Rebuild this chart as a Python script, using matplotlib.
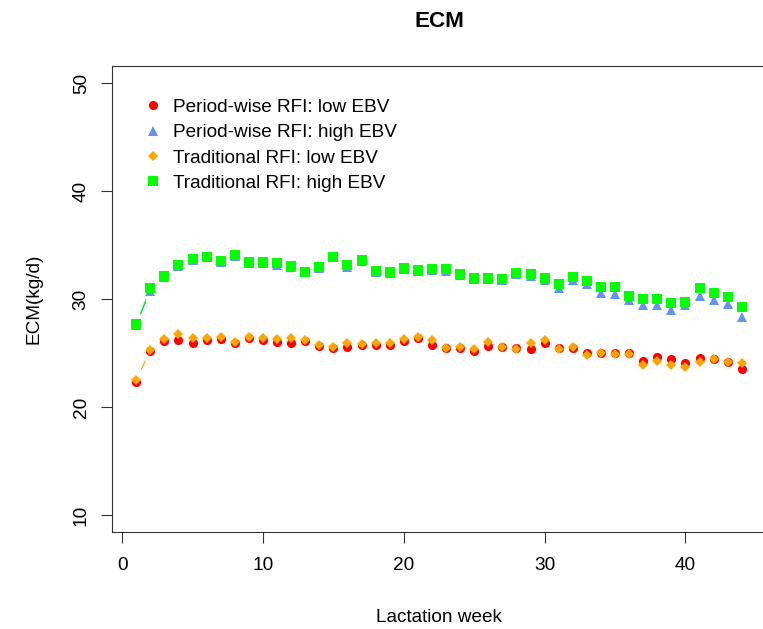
import numpy as np
import matplotlib
matplotlib.use('Agg')
import matplotlib.pyplot as plt

plt.rcParams['font.family'] = ['Liberation Sans', 'DejaVu Sans']

weeks = np.arange(1, 45)

pw_low = [22.28, 25.19, 26.11, 26.20, 25.96, 26.17, 26.30, 25.90, 26.36, 26.24,
          26.05, 25.90, 26.14, 25.65, 25.50, 25.53, 25.74, 25.74, 25.74, 26.14,
          26.36, 25.74, 25.43, 25.43, 25.22, 25.68, 25.56, 25.43, 25.37, 25.90,
          25.43, 25.50, 25.03, 24.97, 24.97, 24.97, 24.26, 24.66, 24.42, 24.04,
          24.51, 24.42, 24.20, 23.52]
pw_high = [27.60, 30.75, 32.05, 33.05, 33.65, 33.90, 33.40, 34.00, 33.35, 33.30,
           33.15, 33.00, 32.50, 32.90, 33.90, 33.00, 33.50, 32.50, 32.45, 32.80,
           32.60, 32.70, 32.60, 32.25, 31.85, 31.85, 31.75, 32.30, 32.15, 31.75,
           31.05, 31.80, 31.40, 30.60, 30.50, 29.90, 29.40, 29.40, 29.00, 29.40,
           30.30, 29.90, 29.50, 28.30]
tr_low = [22.50, 25.25, 26.27, 26.79, 26.36, 26.42, 26.45, 26.05, 26.48, 26.36,
          26.30, 26.36, 26.20, 25.74, 25.59, 25.90, 25.84, 25.96, 25.90, 26.30,
          26.45, 26.20, 25.50, 25.53, 25.34, 25.99, 25.59, 25.37, 25.90, 26.20,
          25.37, 25.59, 24.81, 24.97, 24.88, 24.94, 23.89, 24.26, 23.89, 23.73,
          24.14, 24.42, 24.20, 24.04]
tr_high = [27.66, 30.99, 32.16, 33.12, 33.70, 33.92, 33.49, 34.04, 33.43, 33.40,
           33.30, 33.09, 32.53, 32.93, 33.92, 33.12, 33.58, 32.59, 32.53, 32.87,
           32.69, 32.75, 32.75, 32.35, 31.98, 31.91, 31.88, 32.38, 32.28, 31.91,
           31.36, 32.01, 31.67, 31.14, 31.14, 30.28, 29.97, 29.97, 29.60, 29.72,
           30.99, 30.53, 30.21, 29.29]

labels = ['Period-wise RFI: low EBV', 'Period-wise RFI: high EBV',
          'Traditional RFI: low EBV', 'Traditional RFI: high EBV']
colors = ['#FF0000', '#6495ED', '#FFA500', '#00FF00']

FIG_W, FIG_H, DPI = 763, 629, 100
# plot box in pixels (right edge falls just outside the image, as in the original)
BOX_L, BOX_R, BOX_T, BOX_B = 112, 766, 65.7, 532.3
FS = 13.7


def r_range(lo, hi):
    pad = 0.04 * (hi - lo)
    return lo - pad, hi + pad


def gapped_lines(ax, x, y, color, gap=12):
    # mimic R type="b": segments leave a gap around each point
    pts = ax.transData.transform(np.column_stack([x, y]))
    inv = ax.transData.inverted()
    for p0, p1 in zip(pts[:-1], pts[1:]):
        d = p1 - p0
        dist = np.hypot(*d)
        if dist <= 2 * gap:
            continue
        u = d / dist
        a, b = inv.transform([p0 + u * gap, p1 - u * gap])
        ax.plot([a[0], b[0]], [a[1], b[1]], color=color, lw=0.8, zorder=1)


fig = plt.figure(figsize=(FIG_W / DPI, FIG_H / DPI), dpi=DPI)
ax = fig.add_axes([BOX_L / FIG_W, 1 - BOX_B / FIG_H,
                   (BOX_R - BOX_L) / FIG_W, (BOX_B - BOX_T) / FIG_H])
ax.set_xlim(*r_range(weeks.min(), weeks.max()))
ax.set_ylim(*r_range(10, 50))

series = [pw_low, pw_high, tr_low, tr_high]
markers = [('o', 6.6), ('^', 7.2), ('D', 5.0), ('s', 6.8)]
# only these show a connecting segment in the original
for vals, col in [(pw_high, colors[1]), (tr_low, colors[2]), (tr_high, colors[3])]:
    gapped_lines(ax, weeks, vals, col)
for vals, col, lab, (m, ms) in zip(series, colors, labels, markers):
    ax.plot(weeks, vals, linestyle='none', marker=m, ms=ms, color=col,
            mec=col, mew=0, label=lab, zorder=3)

ax.set_xticks([0, 10, 20, 30, 40])
ax.set_yticks([10, 20, 30, 40, 50])
ax.tick_params(direction='out', length=8, width=0.8, labelsize=FS, colors='#333333',
               labelcolor='black')
ax.tick_params(axis='x', pad=10)
ax.tick_params(axis='y', pad=8, labelrotation=90)
for t in ax.get_yticklabels():
    t.set_va('center')
for s in ax.spines.values():
    s.set_linewidth(0.8)
    s.set_color('#333333')

ax.set_title('ECM', fontsize=16.2, fontweight='bold', pad=28)
ax.set_xlabel('Lactation week', fontsize=FS)
ax.xaxis.set_label_coords(0.5, -(609 - BOX_B) / (BOX_B - BOX_T))
ax.set_ylabel('ECM(kg/d)', fontsize=FS)
ax.yaxis.set_label_coords(-(BOX_L - 42) / (BOX_R - BOX_L), 0.5)

ax.legend(loc='upper left', bbox_to_anchor=(0.048, 0.929), frameon=False,
          fontsize=FS, handlelength=1.0, handletextpad=0.55, labelspacing=0.42,
          borderpad=0, borderaxespad=0, numpoints=1)

fig.savefig('out.png', dpi=DPI)
